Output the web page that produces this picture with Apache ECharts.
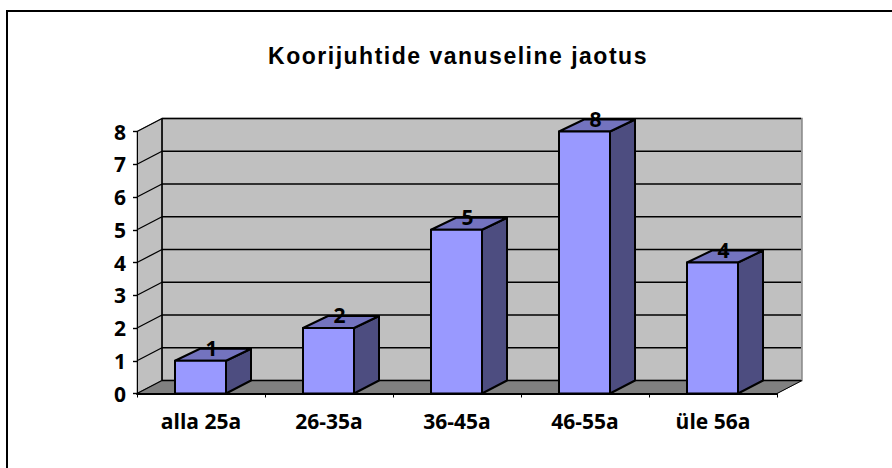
<!DOCTYPE html>
<html><head><meta charset="utf-8">
<style>html,body{margin:0;padding:0;background:#fff}#c{width:892px;height:468px}
#c svg text[style*="23px"],#c svg text[font-size="23px"]{letter-spacing:1.5px}</style>
<script src="https://cdn.jsdelivr.net/npm/echarts@6/dist/echarts.min.js"></script>
</head><body><div id="c"></div>
<script>
var chartTitle = 'Koorijuhtide vanuseline jaotus';
var categories = ['alla 25a', '26-35a', '36-45a', '46-55a', 'üle 56a'];
var values = [1, 2, 5, 8, 4];
var yTicks = [0, 1, 2, 3, 4, 5, 6, 7, 8];

var DX = 25, DY = 13, BAR_W = 51;
var LABEL_FONT = '"Open Sans", sans-serif';
var chart = echarts.init(document.getElementById('c'), null, {renderer: 'svg'});

function renderWalls(params, api) {
  var cs = params.coordSys, kids = [];
  var L = cs.x, R = cs.x + cs.width;
  var y0 = api.coord([0, 0])[1], yT = api.coord([0, yTicks[yTicks.length - 1]])[1];
  function poly(pts, fill, stroke, w) {
    kids.push({type: 'polygon', shape: {points: pts}, style: {fill: fill, stroke: stroke, lineWidth: w, lineJoin: 'miter'}});
  }
  function line(a, b, c, w) {
    kids.push({type: 'line', shape: {x1: a[0], y1: a[1], x2: b[0], y2: b[1]}, style: {stroke: c, lineWidth: w}});
  }
  poly([[L + DX, yT - DY], [R + DX, yT - DY], [R + DX, y0 - DY], [L + DX, y0 - DY]], '#c0c0c0', '#808080', 1.4);
  poly([[L, yT], [L + DX, yT - DY], [L + DX, y0 - DY], [L, y0]], '#c0c0c0', '#808080', 1);
  poly([[L, y0], [L + DX, y0 - DY], [R + DX, y0 - DY], [R, y0]], '#808080', '#808080', 1);
  yTicks.forEach(function (t) {
    var y = api.coord([0, t])[1];
    line([L, y], [L + DX, y - DY], '#000', 1.3);
    line([L + DX, y - DY], [R + DX - 1, y - DY], '#000', 1.7);
  });
  line([L + DX, yT - DY], [L + DX, y0 - DY], '#000', 1.6);
  line([R, y0], [R + DX, y0 - DY], '#000', 1);
  return {type: 'group', children: kids};
}

function renderBar(params, api) {
  var i = api.value(0), v = api.value(1);
  var base = api.coord([i, 0]), top = api.coord([i, v]);
  var x0 = base[0] - BAR_W / 2 - 0.5, x1 = x0 + BAR_W, yb = base[1], yt = top[1];
  var edge = {stroke: '#000', lineWidth: 2, lineJoin: 'round'};
  function face(pts, fill) {
    return {type: 'polygon', shape: {points: pts}, style: Object.assign({fill: fill}, edge)};
  }
  return {type: 'group', children: [
    face([[x1, yb], [x1 + DX, yb - DY], [x1 + DX, yt - DY + 1], [x1, yt]], '#4d4d80'),
    face([[x0, yt], [x0 + DX, yt - DY + 1], [x1 + DX, yt - DY + 1], [x1, yt]], '#7373bf'),
    face([[x0, yb], [x0, yt], [x1, yt], [x1, yb]], '#9999ff'),
    {type: 'text', style: {text: String(v), x: (x0 + x1) / 2 + 11, y: yt - 13, align: 'center', verticalAlign: 'middle',
      font: 'bold 21px ' + LABEL_FONT, fill: '#000'}}
  ]};
}

chart.setOption({
  animation: false,
  backgroundColor: '#fff',
  title: {text: chartTitle, left: 453, top: 39, textAlign: 'center',
    textStyle: {fontFamily: '"Liberation Sans", Arial, sans-serif', fontWeight: 'bold', fontSize: 23, color: '#000'}},
  grid: {left: 137, right: 115, top: 131.5, bottom: 74.5, containLabel: false},
  xAxis: {type: 'category', data: categories, z: 5,
    axisLine: {show: true, lineStyle: {color: '#000', width: 2}},
    axisTick: {show: true, alignWithLabel: false, length: 4, lineStyle: {color: '#000', width: 1}},
    axisLabel: {fontFamily: LABEL_FONT, fontWeight: 'bold', fontSize: 21, color: '#000', margin: 17, interval: 0},
    splitLine: {show: false}},
  yAxis: {type: 'value', min: 0, max: 8, interval: 1, z: 5,
    axisLine: {show: true, lineStyle: {color: '#000', width: 1}},
    axisTick: {show: true, length: 4, lineStyle: {color: '#000', width: 1.4}},
    axisLabel: {fontFamily: LABEL_FONT, fontWeight: 'bold', fontSize: 21, color: '#000', margin: 11},
    splitLine: {show: false}},
  graphic: [
    {type: 'line', silent: true, shape: {x1: 7, y1: 11, x2: 892, y2: 11}, style: {stroke: '#000', lineWidth: 2}},
    {type: 'line', silent: true, shape: {x1: 7, y1: 10, x2: 7, y2: 468}, style: {stroke: '#000', lineWidth: 2}}
  ],
  series: [
    {type: 'custom', z: 1, silent: true, renderItem: renderWalls, data: [0], encode: {x: 0}, clip: false},
    {type: 'custom', z: 2, silent: true, renderItem: renderBar, clip: false,
      data: values.map(function (v, i) { return [i, v]; }), encode: {x: 0, y: 1}}
  ]
});
</script></body></html>
